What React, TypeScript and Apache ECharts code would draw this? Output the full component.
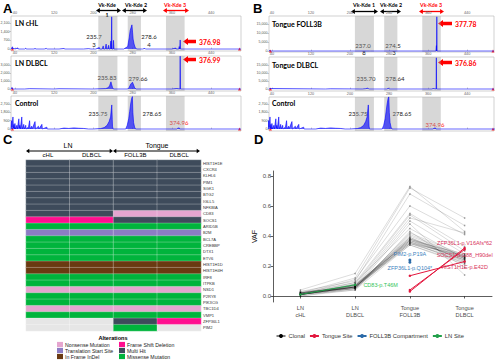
import React, { useEffect, useRef } from "react";
import * as echarts from "echarts";

// ---------- Panel A / B : fragment-size traces ----------
const sizeTicks = [40, 120, 200, 280, 360, 440];
const kdeBands = [[210, 249], [270, 297], [348, 386]];

const lnChlTrace = [
  [32, 0], [35, 180], [36, 0], [38, 60], [40, 0], [46, 90], [47, 0], [60, 0], [62, 70], [63, 0],
  [80, 0], [81, 60], [82, 0], [100, 0], [104, 50], [105, 0], [130, 0], [140, 40], [142, 0],
  [180, 0], [190, 30], [195, 0], [205, 0], [212, 120], [213, 0], [218, 0], [220, 250], [221, 0],
  [224, 0], [226, 400], [227, 0], [229, 0], [231, 300], [232, 0], [234, 0], [235.7, 650],
  [236.5, 0], [237.3, 2600], [238, 0], [240, 0], [241, 700], [242, 0], [262, 0], [270, 200],
  [273, 900], [275, 1500], [277, 1750], [278.6, 1950], [280, 1300], [281, 800], [283, 400],
  [285, 150], [288, 0], [300, 0], [305, 50], [306, 0], [360, 0], [368, 80], [369, 0], [374, 0],
  [375, 200], [376, 0], [376.5, 0], [377, 730], [377.8, 0], [380, 0], [501, 0],
];
const lnDlbclTrace = [
  [32, 0], [34, 200], [35, 0], [60, 0], [70, 40], [71, 0], [120, 0], [130, 30], [131, 0],
  [200, 0], [225, 50], [230, 150], [233, 400], [235.8, 900], [237, 600], [239, 200], [241, 0],
  [270, 0], [273, 200], [276, 600], [279.7, 850], [282, 500], [284, 150], [287, 0], [360, 0],
  [370, 60], [371, 0], [376.5, 0], [377, 4100], [377.5, 0], [501, 0],
];
const controlTrace = [
  [32, 0], [33, 900], [34, 200], [36, 1300], [37, 100], [38, 500], [39, 0], [40, 600], [41, 0],
  [44, 400], [45, 0], [48, 1100], [49, 100], [50, 400], [51, 0], [54, 1300], [55, 0], [58, 500],
  [59, 0], [62, 400], [63, 0], [66, 150], [67, 0], [70, 900], [71, 0], [74, 300], [75, 0],
  [81, 800], [82, 0], [88, 300], [89, 0], [95, 500], [96, 0], [105, 200], [106, 0], [130, 0],
  [140, 100], [150, 60], [160, 120], [170, 80], [180, 60], [190, 0], [200, 0], [215, 50],
  [222, 150], [228, 400], [232, 800], [235, 1300], [237.5, 2600], [238.5, 1000], [239, 300],
  [240, 0], [266, 0], [269, 400], [272, 1100], [274, 1900], [276, 2700], [278, 3300], [279.5, 3500],
  [280.5, 1800], [282, 700], [284, 200], [286, 0], [370, 0], [372, 80], [374.96, 120], [376, 0],
  [501, 0],
];
const tongueFoll3bTrace = [
  [34, 0], [36, 300], [37, 0], [240, 0], [241, 150], [242, 0], [376, 0], [377, 3000],
  [377.4, 0], [377.8, 19000], [378.3, 0], [495, 0],
];
const tongueDlbclTrace = [
  [34, 0], [36, 250], [37, 0], [150, 0], [160, 100], [161, 0], [225, 0], [232, 200], [236, 500],
  [238, 200], [240, 0], [275, 0], [279, 400], [281, 0], [368, 0], [370, 300], [371, 0],
  [376.4, 0], [376.9, 19500], [377.4, 0], [495, 0],
];
const lnChlYTicks = [0, 700, 1400, 2100];
const lnDlbclYTicks = [0, 1000, 2000, 3000];
const controlYTicks = [0, 900, 1800, 2700];
const tongueYTicks = [0, 5000, 10000, 15000];
const ladderA = [35, 498];
const ladderB = [37, 493];

// ---------- Panel C : mutation heatmap ----------
const genes = [
  "HIST1H1E", "CXCR4", "KLHL6", "PIM1", "SGK1", "BTG2", "IGLL5", "NFKBIA", "CD83", "SOCS1",
  "ARID5B", "B2M", "BCL7A", "CREBBP", "DTX1", "ETV6", "HIST1H1D", "HIST1H4H", "IRF8", "ITPKB",
  "NSD1", "P2RY8", "PIK3CG", "TBC1D4", "VMP1", "ZFP36L1", "PIM2",
];
const sampleColumns = ["LN cHL", "LN DLBCL", "Tongue FOLL3B", "Tongue DLBCL"];
const lnChlMut = "M M M M M M M M M F S T S S S S I I S S N S S N S - -".split(" ");
const lnDlbclMut = "M M M M M M M M M F S T S S S S I I S S N S S N S - -".split(" ");
const tongueFoll3bMut = "M M M M M M M M N M S T S S S S I I S S N S S N S M S".split(" ");
const tongueDlbclMut = "M M M M M M M M N M S T S S S S I I S S N S S N S F -".split(" ");
const alterationCodes = ["-", "N", "T", "I", "F", "M", "S"];
const alterationNames = [
  "None", "Nonsense Mutation", "Translation Start Site", "In Frame InDel",
  "Frame Shift Deletion", "Multi Hit", "Missense Mutation",
];
const alterationColors = ["#e6e6e6", "#e5a5cf", "#8c7dc4", "#6a3a12", "#ff0f8f", "#3e4b5b", "#00b43c"];

// ---------- Panel D : VAF ----------
const vafCategories = ["LN\ncHL", "LN\nDLBCL", "Tongue\nFOLL3B", "Tongue\nDLBCL"];
const vafTicks = [0, 0.2, 0.4, 0.6, 0.8];
const clonalVafs = [
  [0.04, 0.15, 0.73, 0.43], [0.02, 0.12, 0.72, 0.52], [0.03, 0.1, 0.68, 0.47],
  [0.01, 0.11, 0.6, 0.41], [0.02, 0.09, 0.55, 0.33], [0.01, 0.08, 0.54, 0.3],
  [0.02, 0.07, 0.52, 0.42], [0.01, 0.06, 0.5, 0.28], [0.03, 0.05, 0.48, 0.14],
  [0.01, 0.09, 0.45, 0.25], [0.0, 0.04, 0.43, 0.19], [0.02, 0.05, 0.42, 0.27],
  [0.01, 0.06, 0.34, 0.22], [0.01, 0.06, 0.35, 0.23], [0.01, 0.07, 0.35, 0.24],
  [0.02, 0.06, 0.36, 0.25], [0.01, 0.05, 0.36, 0.26], [0.01, 0.07, 0.37, 0.24],
  [0.02, 0.06, 0.37, 0.25], [0.01, 0.06, 0.38, 0.26], [0.01, 0.05, 0.38, 0.27],
  [0.01, 0.07, 0.39, 0.25], [0.02, 0.06, 0.39, 0.23], [0.01, 0.06, 0.4, 0.26],
  [0.01, 0.08, 0.36, 0.22], [0.0, 0.05, 0.35, 0.27], [0.02, 0.07, 0.38, 0.24],
  [0.01, 0.06, 0.37, 0.28], [0.01, 0.04, 0.34, 0.21], [0.01, 0.06, 0.41, 0.26],
];
const tongueSiteLabels = ["ZFP36L1-p.V16Afs*62", "SOCS1-p.G88_H90del", "HIST1H1E-p.E42D"];
const tongueSiteVafs = [["-", "-", 0.03, 0.32], ["-", "-", 0.04, 0.31], ["-", "-", 0.135, 0.23]];
const foll3bLabels = ["PIM2-p.P19A", "ZFP36L1-p.Q104*"];
const foll3bVafs = [["-", "-", 0.24, "-"], ["-", "-", 0.225, "-"]];
const lnSiteLabels = ["CD83-p.T46M"];
const lnSiteVafs = [[0.01, 0.075, "-", "-"]];

const RED = "#e3173e";
const BLUE = "#2a6aa8";
const GREEN = "#22a04a";
const TRACE_FONT = "Lato";
const SANS = "Liberation Sans";

function txt(x: number, y: number, text: string, size: number, o: any = {}) {
  return {
    type: "text",
    x,
    y,
    silent: true,
    style: {
      text,
      fontSize: size,
      fontFamily: o.family || TRACE_FONT,
      fontWeight: o.bold ? "bold" : "normal",
      fill: o.color || "#222",
      align: o.align || "center",
      verticalAlign: "middle",
    },
  };
}
function dArrow(x1: number, x2: number, y: number, color: string, w = 1.3, h = 2.6) {
  return [
    { type: "line", silent: true, shape: { x1: x1 + 2, y1: y, x2: x2 - 2, y2: y }, style: { stroke: color, lineWidth: w } },
    { type: "polygon", silent: true, shape: { points: [[x1, y], [x1 + h * 1.5, y - h], [x1 + h * 1.5, y + h]] }, style: { fill: color } },
    { type: "polygon", silent: true, shape: { points: [[x2, y], [x2 - h * 1.5, y - h], [x2 - h * 1.5, y + h]] }, style: { fill: color } },
  ];
}
function blockArrow(x1: number, x2: number, y: number) {
  return {
    type: "polygon",
    silent: true,
    shape: {
      points: [[x1, y], [x1 + 5, y - 3.6], [x1 + 5, y - 1.8], [x2, y - 1.8], [x2, y + 1.8], [x1 + 5, y + 1.8], [x1 + 5, y + 3.6]],
    },
    style: { fill: "#ff0000" },
  };
}

function buildOption() {
  const tracePanels = [
    { data: lnChlTrace, yTicks: lnChlYTicks, ymin: -160, ymax: 2665, left: 11, top: 16, width: 230, height: 35, xmin: 32, xmax: 501, ladder: ladderA },
    { data: lnDlbclTrace, yTicks: lnDlbclYTicks, ymin: -250, ymax: 4125, left: 11, top: 56, width: 230, height: 35, xmin: 32, xmax: 501, ladder: ladderA },
    { data: controlTrace, yTicks: controlYTicks, ymin: -216, ymax: 3564, left: 11, top: 96, width: 230, height: 35, xmin: 32, xmax: 501, ladder: ladderA },
    { data: tongueFoll3bTrace, yTicks: tongueYTicks, ymin: -555, ymax: 19444, left: 269, top: 16, width: 225, height: 36, xmin: 34, xmax: 495, ladder: ladderB },
    { data: tongueDlbclTrace, yTicks: tongueYTicks, ymin: -1250, ymax: 20000, left: 269, top: 57, width: 225, height: 34, xmin: 34, xmax: 495, ladder: ladderB },
    { data: controlTrace, yTicks: controlYTicks, ymin: -216, ymax: 3456, left: 269, top: 97, width: 225, height: 34, xmin: 34, xmax: 495, ladder: ladderB },
  ];

  const grid: any[] = tracePanels.map((p) => ({
    left: p.left, top: p.top, width: p.width, height: p.height,
    show: true, borderColor: "#b4b4b4", borderWidth: 0.6, backgroundColor: "#fff",
    containLabel: false, outerBoundsMode: "none",
  }));
  grid.push({ left: 26, top: 160, width: 175, height: 171, containLabel: false, outerBoundsMode: "none" });
  grid.push({ left: 273, top: 171, width: 219, height: 131, containLabel: false, outerBoundsMode: "none" });

  const xAxis: any[] = tracePanels.map((p, i) => ({
    gridIndex: i, type: "value", position: "top", min: p.xmin, max: p.xmax,
    axisLine: { show: false },
    axisTick: { show: true, customValues: sizeTicks, length: 1.5, lineStyle: { color: "#999", width: 0.5 } },
    axisLabel: { customValues: sizeTicks, fontSize: 3.8, color: "#666", margin: 1.5, fontFamily: SANS },
    splitLine: { show: false },
  }));
  const yAxis: any[] = tracePanels.map((p, i) => ({
    gridIndex: i, type: "value", min: p.ymin, max: p.ymax,
    axisLine: { show: false },
    axisTick: { show: true, customValues: p.yTicks, length: 1.5, lineStyle: { color: "#999", width: 0.5 } },
    axisLabel: { customValues: p.yTicks, fontSize: 3.6, color: "#555", margin: 1.5, fontFamily: SANS },
    splitLine: { show: false },
  }));

  // heatmap axes (index 6)
  xAxis.push({
    gridIndex: 6, type: "category", position: "top", data: sampleColumns,
    axisLine: { show: false }, axisTick: { show: false }, splitLine: { show: false },
    axisLabel: { interval: 0, fontSize: 6, color: "#000", margin: 2, fontFamily: SANS, formatter: (v: string) => v.split(" ")[1] },
  });
  yAxis.push({
    gridIndex: 6, type: "category", position: "right", inverse: true, data: genes,
    axisLine: { show: false }, axisTick: { show: false }, splitLine: { show: false },
    axisLabel: { interval: 0, fontSize: 4.1, color: "#333", margin: 2, fontFamily: SANS },
  });

  // VAF axes (index 7)
  xAxis.push({
    gridIndex: 7, type: "category", data: vafCategories, boundaryGap: true,
    axisLine: { show: true, lineStyle: { color: "#333", width: 0.8 } },
    axisTick: { show: true, alignWithLabel: true, length: 2.5, lineStyle: { color: "#333", width: 0.8 } },
    axisLabel: { interval: 0, fontSize: 5.6, lineHeight: 6.4, color: "#4d4d4d", margin: 3, fontFamily: SANS },
    splitLine: { show: false },
  });
  yAxis.push({
    gridIndex: 7, type: "value", min: -0.04, max: 0.833,
    axisLine: { show: true, lineStyle: { color: "#333", width: 0.8 } },
    axisTick: { show: true, customValues: vafTicks, length: 2.5, lineStyle: { color: "#333", width: 0.8 } },
    axisLabel: { customValues: vafTicks, fontSize: 6, color: "#4d4d4d", margin: 2, fontFamily: SANS, formatter: (v: number) => v.toFixed(1) },
    splitLine: { show: false },
    name: "VAF", nameLocation: "middle", nameGap: 15, nameRotate: 90,
    nameTextStyle: { fontSize: 7, color: "#111", fontFamily: SANS },
  });

  const series: any[] = [];
  tracePanels.forEach((p, i) => {
    series.push({
      type: "line", xAxisIndex: i, yAxisIndex: i, data: p.data, symbol: "none", showSymbol: false,
      lineStyle: { color: "#0000ff", width: 0.6 },
      areaStyle: { color: "rgba(0,0,255,0.88)" },
      silent: true,
      markArea: {
        silent: true,
        itemStyle: { color: "rgba(150,150,150,0.38)" },
        data: kdeBands.map(([a, b]) => [{ xAxis: a }, { xAxis: b }]),
      },
    });
    series.push({
      type: "scatter", xAxisIndex: i, yAxisIndex: i, data: p.ladder.map((v) => [v, 0]),
      symbol: "triangle", symbolSize: 3, itemStyle: { color: "#ff0000" }, silent: true,
    });
  });

  // heatmap
  const mutCols = [lnChlMut, lnDlbclMut, tongueFoll3bMut, tongueDlbclMut];
  const heatData: any[] = [];
  mutCols.forEach((col, c) => col.forEach((code, r) => heatData.push([c, r, alterationCodes.indexOf(code)])));
  const heatIndex = series.length;
  series.push({
    type: "heatmap", xAxisIndex: 6, yAxisIndex: 6, data: heatData, silent: true,
    itemStyle: { borderColor: "rgba(255,255,255,0.55)", borderWidth: 0.5 },
  });

  // VAF lines
  const lbl = { fontSize: 5.5, fontFamily: SANS };
  clonalVafs.forEach((row) => {
    series.push({
      type: "line", name: "Clonal", xAxisIndex: 7, yAxisIndex: 7, data: row, silent: true,
      symbol: "circle", symbolSize: 1.6, showSymbol: true,
      lineStyle: { color: "rgba(0,0,0,0.2)", width: 0.7 },
      itemStyle: { color: "rgba(0,0,0,0.35)" },
    });
  });
  const labelPos = ["top", "bottom", "bottom"];
  tongueSiteVafs.forEach((row, k) => {
    series.push({
      type: "line", name: "Tongue Site", xAxisIndex: 7, yAxisIndex: 7, silent: true, z: 4,
      symbol: "circle", symbolSize: 2.5, showSymbol: true,
      lineStyle: { color: RED, width: 1 }, itemStyle: { color: RED },
      data: row.map((v, j) =>
        j === 3 ? { value: v, label: { show: true, formatter: tongueSiteLabels[k], position: labelPos[k], distance: 1, color: "#d8325a", ...lbl } } : v
      ),
    });
  });
  const blueLabelPos = ["top", "bottom"];
  foll3bVafs.forEach((row, k) => {
    series.push({
      type: "line", name: "FOLL3B Compartment", xAxisIndex: 7, yAxisIndex: 7, silent: true, z: 4,
      symbol: "circle", symbolSize: 3, showSymbol: true,
      lineStyle: { color: BLUE, width: 1 }, itemStyle: { color: BLUE },
      data: row.map((v, j) =>
        j === 2 ? { value: v, label: { show: true, formatter: foll3bLabels[k], position: blueLabelPos[k], distance: 1, color: "#3d7fbd", ...lbl } } : v
      ),
    });
  });
  lnSiteVafs.forEach((row, k) => {
    series.push({
      type: "line", name: "LN Site", xAxisIndex: 7, yAxisIndex: 7, silent: true, z: 4,
      symbol: "circle", symbolSize: 2.5, showSymbol: true,
      lineStyle: { color: GREEN, width: 1 }, itemStyle: { color: GREEN },
      data: row.map((v, j) =>
        j === 1 ? { value: v, label: { show: true, formatter: lnSiteLabels[k], position: "right", distance: 7, color: "#35c45a", ...lbl } } : v
      ),
    });
  });

  // graphics
  const g: any[] = [];
  g.push(txt(3, 8, "A", 13, { bold: true, family: SANS, color: "#000", align: "left" }));
  g.push(txt(253, 8, "B", 13, { bold: true, family: SANS, color: "#000", align: "left" }));
  g.push(txt(3, 139, "C", 13, { bold: true, family: SANS, color: "#000", align: "left" }));
  g.push(txt(254, 139, "D", 13, { bold: true, family: SANS, color: "#000", align: "left" }));

  // A top arrows
  g.push(txt(107, 5, "Vk-Kde", 5.3, { bold: true, color: "#000" }));
  g.push(txt(107, 15, "1", 5.3, { bold: true, color: "#000" }));
  g.push(...dArrow(96, 121, 10.5, "#000"));
  g.push(txt(136, 5, "Vk-Kde 2", 5.3, { bold: true, color: "#000" }));
  g.push(...dArrow(122, 147, 10.5, "#000"));
  g.push(txt(175, 5, "Vk-Kde 3", 5.3, { bold: true, color: "#ff0000" }));
  g.push(...dArrow(163, 189, 10.5, "#ff0000"));
  // B top arrows
  g.push(txt(364, 5, "Vk-Kde 1", 5.3, { bold: true, color: "#000" }));
  g.push(...dArrow(351, 378, 11.5, "#000"));
  g.push(txt(391, 5, "Vk-Kde 2", 5.3, { bold: true, color: "#000" }));
  g.push(...dArrow(380, 401, 11.5, "#000"));
  g.push(txt(431, 5, "Vk-Kde 3", 5.3, { bold: true, color: "#ff0000" }));
  g.push(...dArrow(419, 444, 11.5, "#ff0000"));

  // trace titles
  const tOpt = { bold: true, color: "#000", align: "left" };
  g.push(txt(15, 23, "LN cHL", 7, tOpt));
  g.push(txt(15, 63, "LN DLBCL", 7, tOpt));
  g.push(txt(15, 103, "Control", 7, tOpt));
  g.push(txt(272, 24, "Tongue FOLL3B", 7, tOpt));
  g.push(txt(272, 65, "Tongue DLBCL", 7, tOpt));
  g.push(txt(272, 103, "Control", 7, tOpt));

  // peak labels
  const pk = { color: "#222" };
  g.push(txt(94, 36.5, "235.7", 6, pk), txt(94, 44, "3", 6, pk));
  g.push(txt(149, 36.5, "278.6", 6, pk), txt(149, 44, "4", 6, pk));
  g.push(txt(107, 77, "235.83", 6, pk), txt(138, 78, "279.66", 6, pk));
  g.push(txt(98, 113, "235.75", 6, pk), txt(152, 113, "278.65", 6, pk));
  g.push(txt(179, 122, "374.96", 6, { color: "#ff2020" }));
  g.push(txt(363, 45, "237.0", 6, pk), txt(364, 52, "8", 6, pk));
  g.push(txt(393, 45, "274.5", 6, pk), txt(394, 52, "3", 6, pk));
  g.push(txt(366, 78, "235.70", 6, pk), txt(395, 78, "278.64", 6, pk));
  g.push(txt(358, 113, "235.75", 6, pk), txt(402, 113, "278.65", 6, pk));
  g.push(txt(435, 124, "374.96", 6, { color: "#ff2020" }));

  // red arrows + values
  const rv = { bold: true, color: "#ff0000", align: "left" };
  g.push(blockArrow(183, 196, 41.5), txt(199, 41.5, "376.98", 6.8, rv));
  g.push(blockArrow(183, 196, 59.5), txt(199, 59.5, "376.99", 6.8, rv));
  g.push(blockArrow(438, 452, 23.5), txt(455, 24, "377.78", 6.8, rv));
  g.push(blockArrow(438, 452, 62.5), txt(455, 63, "376.86", 6.8, rv));

  // C header
  const hOpt = { family: SANS, color: "#000" };
  g.push(txt(68, 145, "LN", 7, hOpt));
  g.push(txt(157, 145, "Tongue", 7, hOpt));
  g.push(...dArrow(26, 113, 151, "#000", 1, 2.2));
  g.push(...dArrow(113, 200, 151, "#000", 1, 2.2));

  // C legend
  g.push(txt(113, 337.5, "Alterations", 5.6, { bold: true, family: SANS, color: "#000" }));
  [1, 2, 3, 4, 5, 6].forEach((k, idx) => {
    const col = idx < 3 ? 0 : 1;
    const row = idx % 3;
    const x = col === 0 ? 57 : 119;
    const y = 344.5 + row * 6;
    g.push({ type: "rect", silent: true, shape: { x, y: y - 2.6, width: 6, height: 5.2 }, style: { fill: alterationColors[k] } });
    g.push(txt(x + 8, y, alterationNames[k], 5.2, { family: SANS, color: "#222", align: "left" }));
  });

  return {
    animation: false,
    backgroundColor: "#fff",
    textStyle: { fontFamily: SANS },
    grid,
    xAxis,
    yAxis,
    series,
    visualMap: {
      type: "piecewise", show: false, seriesIndex: heatIndex, dimension: 2,
      pieces: alterationColors.map((c, i) => ({ value: i, color: c })),
    },
    legend: {
      show: true, selectedMode: false, left: 276, top: 333, padding: 0,
      itemWidth: 9, itemHeight: 5, itemGap: 4,
      textStyle: { fontSize: 5.8, color: "#333", fontFamily: SANS, padding: [0, 0, 0, -2] },
      data: [
        { name: "Clonal", itemStyle: { color: "#000" }, lineStyle: { color: "#000", width: 1 } },
        { name: "Tongue Site" },
        { name: "FOLL3B Compartment" },
        { name: "LN Site" },
      ],
    },
    graphic: { elements: g },
  };
}

export default function App() {
  const ref = useRef<HTMLDivElement>(null);
  useEffect(() => {
    if (!ref.current) return;
    const chart = echarts.init(ref.current, null, { renderer: "svg" });
    chart.setOption(buildOption() as any);
    return () => chart.dispose();
  }, []);
  return (
    <div
      ref={ref}
      style={{ position: "absolute", left: 0, top: 0, width: 500, height: 363, background: "#fff" }}
    />
  );
}
